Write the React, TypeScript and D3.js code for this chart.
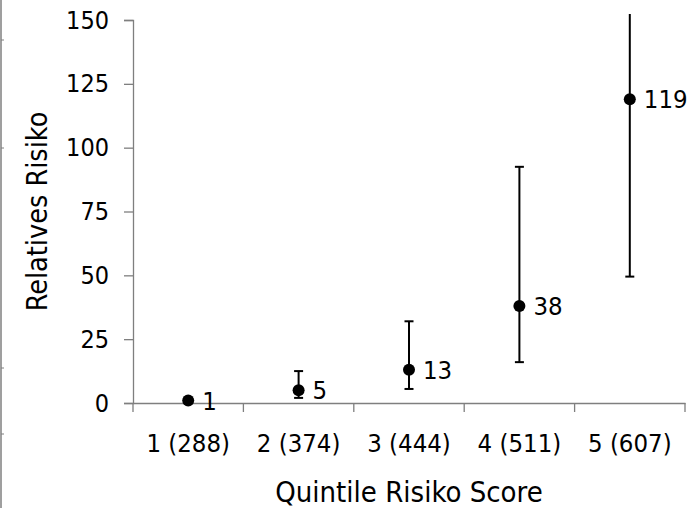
import { useRef, useEffect } from "react";
import * as d3 from "d3";

// quintiles of the risk score, with case counts
const categories = ["1 (288)", "2 (374)", "3 (444)", "4 (511)", "5 (607)"];
const relRisk = [1, 5, 13, 38, 119];
const lower = [1, 2, 5.5, 16, 49.5];
const upper = [1, 12.5, 32, 92.5, 153];
const yTicks = [0, 25, 50, 75, 100, 125, 150];

const width = 695;
const height = 508;
const left = 133;
const right = 685;
const top = 20;
const bottom = 403;
const font = "'DejaVu Sans Condensed', 'DejaVu Sans', sans-serif";

export default function App() {
  const xAxisRef = useRef<SVGGElement>(null);
  const yAxisRef = useRef<SVGGElement>(null);

  const x = d3.scaleBand().domain(categories).range([left, right]).padding(0);
  const y = d3.scaleLinear().domain([0, 150]).range([bottom, top]);
  const cx = (i: number) => (x(categories[i]) as number) + x.bandwidth() / 2;

  useEffect(() => {
    const gx = d3.select(xAxisRef.current);
    gx.selectAll("*").remove();
    gx.call(d3.axisBottom(x).tickSize(0).tickPadding(31));
    gx.select(".domain").attr("stroke", "#7f7f7f").attr("stroke-width", 1.3);
    gx.selectAll("text").attr("font-size", 25.5).attr("font-family", font).attr("fill", "#000");
    // band edge ticks
    const edges = categories.map(c => x(c) as number).concat([right]);
    gx.selectAll(".edge")
      .data(edges)
      .enter()
      .append("line")
      .attr("class", "edge")
      .attr("x1", d => d)
      .attr("x2", d => d)
      .attr("y1", 0)
      .attr("y2", 9)
      .attr("stroke", "#7f7f7f")
      .attr("stroke-width", 1.3);

    const gy = d3.select(yAxisRef.current);
    gy.selectAll("*").remove();
    gy.call(d3.axisLeft(y).tickValues(yTicks).tickSize(9).tickSizeOuter(9).tickPadding(15));
    gy.selectAll("line").attr("stroke", "#7f7f7f").attr("stroke-width", 1.3);
    gy.select(".domain").attr("stroke", "#7f7f7f").attr("stroke-width", 1.3);
    gy.selectAll("text").attr("font-size", 25).attr("font-family", font).attr("fill", "#000");
  });

  return (
    <div style={{ position: "absolute", left: 0, top: 0 }}>
      <svg width={width} height={height} style={{ display: "block", background: "#fff" }}>
        <defs>
          <clipPath id="plotclip">
            <rect x={0} y={14} width={width} height={height} />
          </clipPath>
        </defs>
        {/* frame remnant on the left edge */}
        <line x1={1} x2={1} y1={0} y2={height} stroke="#7f7f7f" strokeWidth={1.5} />
        {[40, 148, 368, 434].map(v => (
          <line key={v} x1={1} x2={4} y1={v} y2={v} stroke="#7f7f7f" strokeWidth={1} />
        ))}

        <g ref={xAxisRef} transform={`translate(0,${bottom})`} />
        <g ref={yAxisRef} transform={`translate(${left},0)`} />

        <g clipPath="url(#plotclip)">
          {relRisk.map((v, i) => (
            <g key={i} stroke="#000" strokeWidth={2}>
              <line x1={cx(i)} x2={cx(i)} y1={y(lower[i])} y2={y(upper[i])} />
              {upper[i] <= 150 && (
                <line x1={cx(i) - 4.5} x2={cx(i) + 4.5} y1={y(upper[i])} y2={y(upper[i])} />
              )}
              {lower[i] !== v && (
                <line x1={cx(i) - 4.5} x2={cx(i) + 4.5} y1={y(lower[i])} y2={y(lower[i])} />
              )}
            </g>
          ))}
        </g>

        {relRisk.map((v, i) => (
          <g key={"p" + i}>
            <circle cx={cx(i)} cy={y(v)} r={6} fill="#000" />
            <text
              x={cx(i) + 14}
              y={y(v)}
              dy="0.36em"
              fontSize={25.5}
              fontFamily={font}
              fill="#000"
            >
              {v}
            </text>
          </g>
        ))}

        <text
          x={(left + right) / 2}
          y={502}
          textAnchor="middle"
          fontSize={29}
          fontFamily={font}
          fill="#000"
        >
          Quintile Risiko Score
        </text>
        <text
          transform={`translate(47,${(top + bottom) / 2}) rotate(-90)`}
          textAnchor="middle"
          fontSize={28.5}
          fontFamily={font}
          fill="#000"
        >
          Relatives Risiko
        </text>
      </svg>
    </div>
  );
}
